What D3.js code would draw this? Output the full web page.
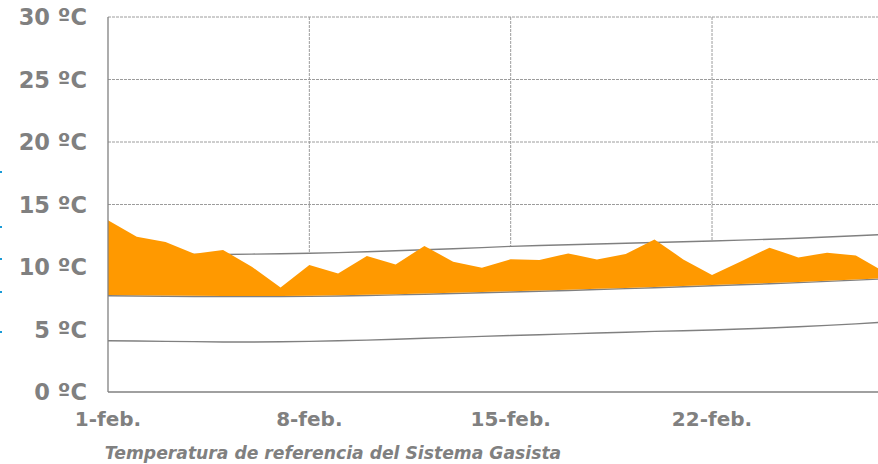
<!DOCTYPE html>
<html>
<head>
<meta charset="utf-8">
<script src="https://cdn.jsdelivr.net/npm/d3@7"></script>
<style>
  body { margin: 0; background: #fff; }
  svg { display: block; }
</style>
</head>
<body>
<div id="chart"></div>
<script>
// days of February
var days = [1,2,3,4,5,6,7,8,9,10,11,12,13,14,15,16,17,18,19,20,21,22,23,24,25,26,27,28];
// daily reference temperature (orange)
var tempReal = [13.75,12.42,12.0,11.06,11.36,10.03,8.37,10.16,9.49,10.88,10.21,11.68,10.43,9.95,
                10.62,10.56,11.09,10.61,11.04,12.21,10.61,9.36,10.45,11.55,10.77,11.14,10.93,9.6];
// upper normal band
var tempHigh = [11.0,11.0,11.0,11.0,11.0,11.03,11.06,11.1,11.15,11.22,11.3,11.38,11.46,11.55,
                11.65,11.72,11.78,11.84,11.9,11.96,12.02,12.08,12.15,12.22,12.3,12.4,12.5,12.6];
// middle normal line (base of orange area)
var tempMid = [7.7,7.68,7.66,7.64,7.63,7.63,7.63,7.65,7.68,7.72,7.77,7.82,7.88,7.94,
               8.0,8.06,8.12,8.2,8.27,8.34,8.42,8.5,8.58,8.66,8.75,8.85,8.95,9.05];
// lower normal line
var tempLow = [4.1,4.08,4.05,4.03,4.0,4.0,4.02,4.05,4.1,4.15,4.22,4.3,4.37,4.45,
               4.52,4.58,4.65,4.72,4.78,4.85,4.9,4.96,5.04,5.12,5.22,5.33,5.45,5.6];
var yTicks = [0,5,10,15,20,25,30];
var xTicks = [1,8,15,22];
var title = "Temperatura de referencia del Sistema Gasista";

var width = 878, height = 464;
var gray = "#808080";

var svg = d3.select("#chart")
  .append("svg")
    .attr("width", width)
    .attr("height", height);

var x = d3.scaleLinear()
  .domain([1, 28])
  .range([108, 884.6]);

var y = d3.scaleLinear()
  .domain([0, 30])
  .range([392, 17]);

// horizontal gridlines
svg.append("g")
  .selectAll("line")
  .data(yTicks.slice(1))
  .enter()
  .append("line")
    .attr("x1", 108)
    .attr("x2", width)
    .attr("y1", function(d) { return y(d); })
    .attr("y2", function(d) { return y(d); })
    .attr("stroke", "#9c9c9c")
    .attr("stroke-width", 1)
    .attr("stroke-dasharray", "3,1");

// vertical gridlines
svg.append("g")
  .selectAll("line")
  .data(xTicks.slice(1))
  .enter()
  .append("line")
    .attr("x1", function(d) { return x(d); })
    .attr("x2", function(d) { return x(d); })
    .attr("y1", y(30))
    .attr("y2", y(0))
    .attr("stroke", "#9c9c9c")
    .attr("stroke-width", 1)
    .attr("stroke-dasharray", "3,1");

var rows = days.map(function(d, i) {
  return { day: d, real: tempReal[i], high: tempHigh[i], mid: tempMid[i], low: tempLow[i] };
});

// white area under the upper band hides the gridlines
svg.append("path")
  .datum(rows)
  .attr("fill", "#fff")
  .attr("d", d3.area()
    .x(function(d) { return x(d.day); })
    .y0(y(0))
    .y1(function(d) { return y(d.high); }));

var line = function(key) {
  return d3.line()
    .x(function(d) { return x(d.day); })
    .y(function(d) { return y(d[key]); });
};

["high", "mid", "low"].forEach(function(k) {
  svg.append("path")
    .datum(rows)
    .attr("fill", "none")
    .attr("stroke", gray)
    .attr("stroke-width", 1.4)
    .attr("d", line(k));
});

// orange area between mid line and daily temperature
svg.append("path")
  .datum(rows)
  .attr("fill", "#ff9900")
  .attr("d", d3.area()
    .x(function(d) { return x(d.day); })
    .y0(function(d) { return y(d.mid) - 0.7; })
    .y1(function(d) { return y(d.real); }));

// axes
svg.append("line")
  .attr("x1", 108).attr("x2", 108)
  .attr("y1", y(30)).attr("y2", y(0))
  .attr("stroke", gray).attr("stroke-width", 1.3);
svg.append("line")
  .attr("x1", 108).attr("x2", width)
  .attr("y1", y(0)).attr("y2", y(0))
  .attr("stroke", gray).attr("stroke-width", 1.5);

// y labels
svg.append("g")
  .selectAll("text")
  .data(yTicks)
  .enter()
  .append("text")
    .attr("x", 87)
    .attr("y", function(d) { return y(d); })
    .attr("dy", "0.36em")
    .attr("text-anchor", "end")
    .attr("font-family", "DejaVu Sans, Verdana, sans-serif")
    .attr("font-weight", "bold")
    .attr("font-size", 22.5)
    .attr("fill", gray)
    .text(function(d) { return d + " ºC"; });

// x labels
svg.append("g")
  .selectAll("text")
  .data(xTicks)
  .enter()
  .append("text")
    .attr("x", function(d) { return x(d); })
    .attr("y", 426)
    .attr("text-anchor", "middle")
    .attr("font-family", "DejaVu Sans, Verdana, sans-serif")
    .attr("font-weight", "bold")
    .attr("font-size", 20)
    .attr("fill", gray)
    .text(function(d) { return d + "-feb."; });

svg.append("text")
  .attr("x", 333)
  .attr("y", 459)
  .attr("text-anchor", "middle")
  .attr("font-family", "DejaVu Sans, Verdana, sans-serif")
  .attr("font-weight", "bold")
  .attr("font-style", "italic")
  .attr("font-size", 17.2)
  .attr("fill", gray)
  .text(title);

// small blue marks cut off at the left edge
svg.append("g")
  .selectAll("rect")
  .data([172, 227, 259, 292, 332])
  .enter()
  .append("rect")
    .attr("x", 0).attr("y", function(d) { return d - 1; })
    .attr("width", 2).attr("height", 2)
    .attr("fill", "#1a9bd7");
</script>
</body>
</html>
